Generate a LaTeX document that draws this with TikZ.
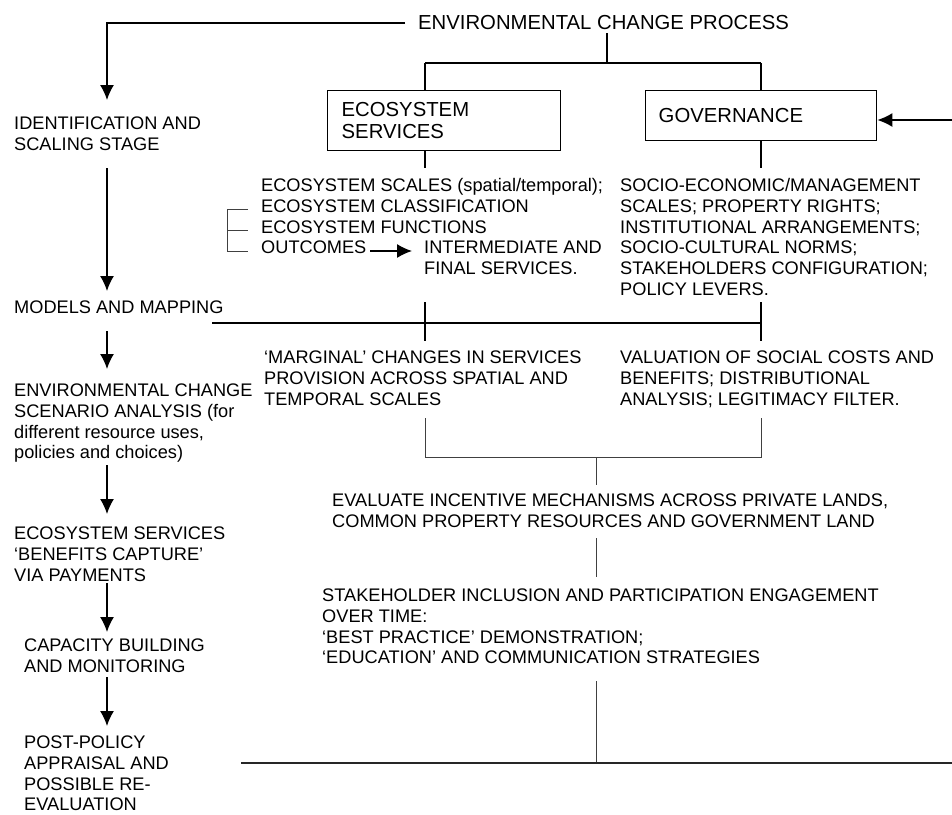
\documentclass[tikz,border=0pt]{standalone}
\usepackage{fontspec}
\setmainfont{Liberation Sans}
\usetikzlibrary{arrows.meta}
\begin{document}
\begin{tikzpicture}[x=1pt,y=-1pt,
  body/.style={anchor=base west, inner sep=0pt, align=left, font=\fontsize{18.2}{20.8}\selectfont},
  head/.style={anchor=base west, inner sep=0pt, align=left, font=\fontsize{20.3}{22}\selectfont},
  ln/.style={line width=1.4pt},
  thin/.style={line width=1pt, black!75},
  arr/.style={ln, -{Latex[length=15pt,width=14pt]}},
  box/.style={draw, line width=1.4pt, anchor=north west, align=left, inner ysep=0pt,
    font=\fontsize{20.3}{22}\selectfont}]
\useasboundingbox (0,0) rectangle (952,814);

% header and boxes (base anchor = baseline of last line)
\node[head] (title) at (418,29.3) {ENVIRONMENTAL CHANGE PROCESS};
\node[box, inner xsep=14pt, text width=205pt, minimum height=60pt] (es) at (327,90) {ECOSYSTEM\\SERVICES};
\node[box, inner xsep=13pt, text width=205pt, minimum height=50pt] (gov) at (645,90) {GOVERNANCE};

% left column
\node[body] (id) at (14,150.3) {IDENTIFICATION AND\\SCALING STAGE};
\node[body] (mm) at (14,313.5) {MODELS AND MAPPING};
\node[body] (ecs) at (14,458.9) {ENVIRONMENTAL CHANGE\\SCENARIO ANALYSIS (for\\different resource uses,\\policies and choices)};
\node[body] (bc) at (14,581.1) {ECOSYSTEM SERVICES\\‘BENEFITS CAPTURE’\\VIA PAYMENTS};
\node[body] (cb) at (24,672.3) {CAPACITY BUILDING\\AND MONITORING};
\node[body] (pp) at (24,810.9) {POST-POLICY\\APPRAISAL AND\\POSSIBLE RE-\\EVALUATION};

% right texts
\node[body] (est) at (261,253.9) {ECOSYSTEM SCALES (spatial/temporal);\\ECOSYSTEM CLASSIFICATION\\ECOSYSTEM FUNCTIONS\\OUTCOMES};
\node[body] (ifs) at (424,274.4) {INTERMEDIATE AND\\FINAL SERVICES.};
\node[body] (govt) at (620,295.5) {SOCIO-ECONOMIC/MANAGEMENT\\SCALES; PROPERTY RIGHTS;\\INSTITUTIONAL ARRANGEMENTS;\\SOCIO-CULTURAL NORMS;\\STAKEHOLDERS CONFIGURATION;\\POLICY LEVERS.};
\node[body] (marg) at (264,405.1) {‘MARGINAL’ CHANGES IN SERVICES\\PROVISION ACROSS SPATIAL AND\\TEMPORAL SCALES};
\node[body] (val) at (620,405.1) {VALUATION OF SOCIAL COSTS AND\\BENEFITS; DISTRIBUTIONAL\\ANALYSIS; LEGITIMACY FILTER.};
\node[body] (eval) at (332,527.3) {EVALUATE INCENTIVE MECHANISMS ACROSS PRIVATE LANDS,\\COMMON PROPERTY RESOURCES AND GOVERNMENT LAND};
\node[body] (stk) at (322,663.9) {STAKEHOLDER INCLUSION AND PARTICIPATION ENGAGEMENT\\OVER TIME:\\‘BEST PRACTICE’ DEMONSTRATION;\\‘EDUCATION’ AND COMMUNICATION STRATEGIES};

% coordinates
\coordinate (tl) at (405,23);
\coordinate (a1) at (107,100);
\coordinate (tj) at (607,33);
\coordinate (hj) at (607,63);
\coordinate (hl) at (425,63);
\coordinate (hr) at (761,63);
\coordinate (wr) at (952,120);
\coordinate (esd) at (425,168);
\coordinate (govd) at (761,168);
\coordinate (mml) at (212,323);
\coordinate (mmr) at (761,323);
\coordinate (bot) at (596,763);
\coordinate (botl) at (241,763);
\coordinate (botr) at (952,763);

% top connectors
\draw[arr] (tl) -| (a1);
\draw[ln] (tj) -- (hj);
\draw[ln] (hl) -- (hr);
\draw[ln] (hl) -- (hl |- es.north);
\draw[ln] (hr) -- (hr |- gov.north);
\draw[arr] (wr) -- (gov.east |- wr);
\draw[ln] (esd |- es.south) -- (esd);
\draw[ln] (govd |- gov.south) -- (govd);

% left arrows
\coordinate (l1s) at (107,168); \coordinate (l1e) at (107,291);
\coordinate (l2s) at (107,331); \coordinate (l2e) at (107,369);
\coordinate (l3s) at (107,465); \coordinate (l3e) at (107,514);
\coordinate (l4s) at (107,583); \coordinate (l4e) at (107,632);
\coordinate (l5s) at (107,677); \coordinate (l5e) at (107,726);
\draw[arr] (l1s) -- (l1e);
\draw[arr] (l2s) -- (l2e);
\draw[arr] (l3s) -- (l3e);
\draw[arr] (l4s) -- (l4e);
\draw[arr] (l5s) -- (l5e);

% bracket and outcomes arrow
\coordinate (b1) at (248,209); \coordinate (b2) at (248,230); \coordinate (b3) at (248,251);
\draw[thin] (b1) -- (227,209) -- (227,251) -- (b3);
\draw[thin] (227,230) -- (b2);
\coordinate (oa) at (370,251); \coordinate (ob) at (412,251);
\draw[arr] (oa) -- (ob);

% models line
\draw[ln] (mml) -- (mmr);
\draw[ln] (425,302) -- (425,341);
\draw[ln] (761,302) -- (761,341);

% lower bracket
\coordinate (lb) at (596,457);
\draw[thin] (425,418) -- (425,457) -- (761,457) -- (761,418);
\draw[thin] (lb) -- (596,485);
\draw[thin] (596,538) -- (596,577);
\draw[thin] (596,681) -- (bot);
\draw[ln, black!85] (botl) -- (botr);
\end{tikzpicture}
\end{document}
